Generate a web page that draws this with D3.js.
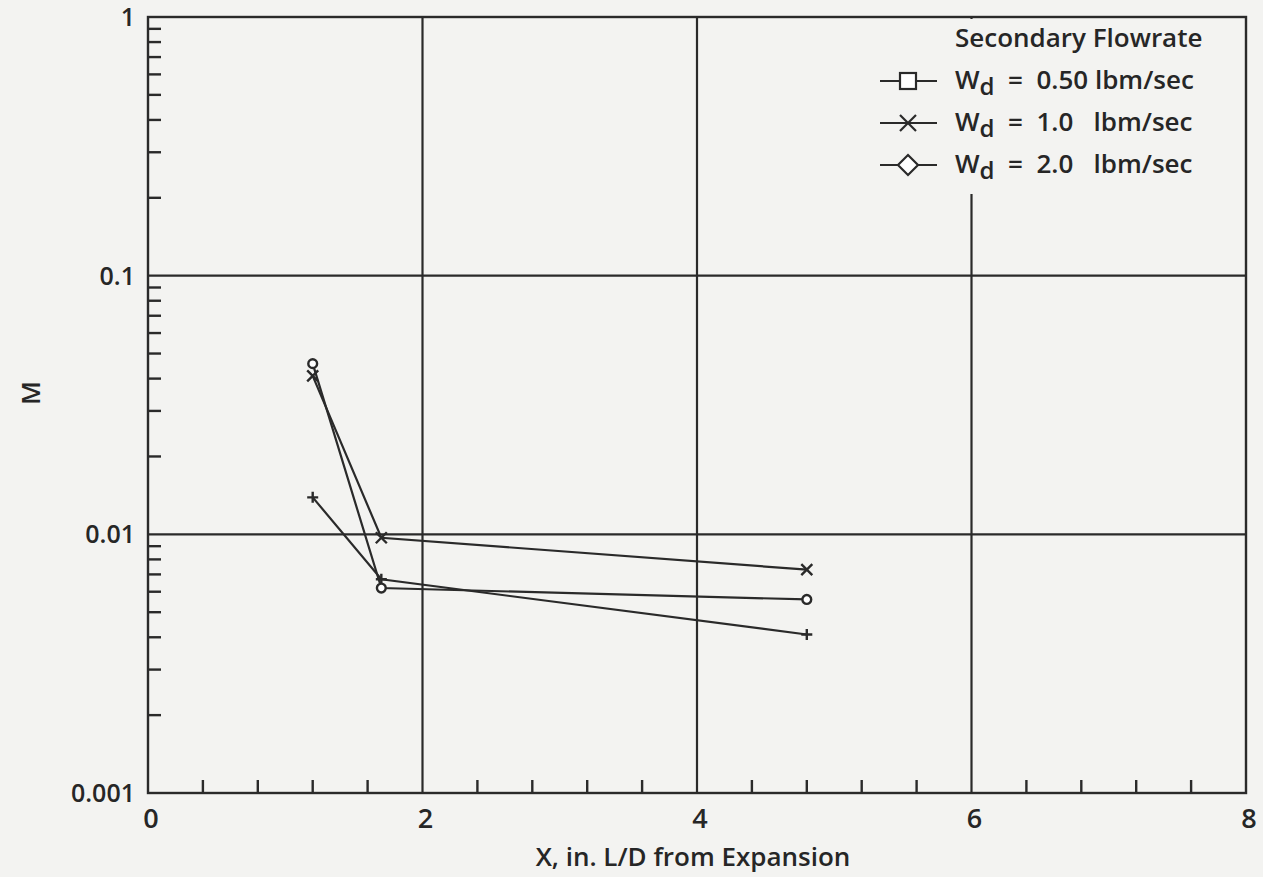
<!DOCTYPE html>
<html>
<head>
<meta charset="utf-8">
<script src="https://cdn.jsdelivr.net/npm/d3@7"></script>
<style>
    body { margin: 0; background: #f3f3f1; }
    #chart-area { width: 1263px; height: 877px; }
    text { font-family: "Open Sans", "Noto Sans", sans-serif; fill: #262626; font-weight: 600; }
</style>
</head>
<body>
<div id="chart-area"></div>
<script>

// data
let xPositions = [1.2, 1.7, 4.8];
let seriesNames = ["0.50", "1.0", "2.0"];
let flow050 = [0.0139, 0.0067, 0.0041];
let flow10 = [0.041, 0.0097, 0.0073];
let flow20 = [0.0457, 0.0062, 0.0056];
let markerTypes = ["plus", "cross", "circle"];
let legendMarkers = ["square", "cross", "diamond"];

let xTicks = [0, 2, 4, 6, 8];
let yTickLabels = ["1", "0.1", "0.01", "0.001"];
let yTicks = [1, 0.1, 0.01, 0.001];

class MixChart {

    constructor(parentElement) {
        this.parentElement = parentElement;
        this.series = [flow050, flow10, flow20];
        this.initVis();
    }

    initVis() {
        let vis = this;

        vis.margin = {top: 17, right: 17, bottom: 84, left: 148};
        vis.width = 1263 - vis.margin.left - vis.margin.right;
        vis.height = 877 - vis.margin.top - vis.margin.bottom;

        vis.svg = d3.select("#" + vis.parentElement).append("svg")
            .attr("width", 1263)
            .attr("height", 877);

        vis.g = vis.svg.append("g")
            .attr("transform", `translate(${vis.margin.left}, ${vis.margin.top})`);

        vis.x = d3.scaleLinear().domain([0, 8]).range([0, vis.width]);
        vis.y = d3.scaleLog().domain([0.001, 1]).range([vis.height, 0]);

        let ink = "#2a2a2a";

        // grid lines at decades and at even x
        vis.g.selectAll(".hgrid")
            .data([0.1, 0.01])
            .enter().append("line")
            .attr("x1", 0).attr("x2", vis.width)
            .attr("y1", d => vis.y(d)).attr("y2", d => vis.y(d))
            .attr("stroke", ink).attr("stroke-width", 2.2);

        vis.g.selectAll(".vgrid")
            .data([2, 4, 6])
            .enter().append("line")
            .attr("x1", d => vis.x(d)).attr("x2", d => vis.x(d))
            .attr("y1", 0).attr("y2", vis.height)
            .attr("stroke", ink).attr("stroke-width", 2.2);

        // minor log ticks on the left
        let minor = [];
        [0.001, 0.01, 0.1].forEach(dec => {
            for (let k = 2; k <= 9; k++) minor.push(dec * k);
        });
        vis.g.selectAll(".ytick")
            .data(minor)
            .enter().append("line")
            .attr("x1", 0).attr("x2", 13)
            .attr("y1", d => vis.y(d)).attr("y2", d => vis.y(d))
            .attr("stroke", ink).attr("stroke-width", 2.4);

        // minor x ticks every 0.4
        let xMinor = d3.range(0.4, 8, 0.4).filter(d => Math.abs(d / 2 - Math.round(d / 2)) > 0.01);
        vis.g.selectAll(".xtick")
            .data(xMinor)
            .enter().append("line")
            .attr("x1", d => vis.x(d)).attr("x2", d => vis.x(d))
            .attr("y1", vis.height).attr("y2", vis.height - 13)
            .attr("stroke", ink).attr("stroke-width", 2.4);

        // tick labels
        vis.g.selectAll(".ylab")
            .data(yTicks)
            .enter().append("text")
            .attr("x", -13)
            .attr("y", d => vis.y(d) + 9)
            .attr("text-anchor", "end")
            .attr("font-size", 25)
            .text((d, i) => yTickLabels[i]);

        vis.g.selectAll(".xlab")
            .data(xTicks)
            .enter().append("text")
            .attr("x", d => vis.x(d) + 3)
            .attr("y", vis.height + 35)
            .attr("text-anchor", "middle")
            .attr("font-size", 27)
            .text(d => d);

        // axis titles
        vis.svg.append("text")
            .attr("transform", "translate(40, 393) rotate(-90)")
            .attr("text-anchor", "middle")
            .attr("font-size", 26)
            .text("M");

        vis.svg.append("text")
            .attr("x", 693).attr("y", 866)
            .attr("text-anchor", "middle")
            .attr("font-size", 26)
            .text("X, in. L/D from Expansion");

        vis.wrangleData();
    }

    wrangleData() {
        let vis = this;

        vis.displayData = vis.series.map((vals, i) => ({
            name: seriesNames[i],
            marker: markerTypes[i],
            points: xPositions.map((x, j) => ({x: x, y: vals[j]}))
        }));

        vis.updateVis();
    }

    drawMarker(sel, type, size) {
        let s = size;
        if (type === "plus") {
            sel.append("path").attr("d", `M${-s},0H${s}M0,${-s}V${s}`);
        } else if (type === "cross") {
            sel.append("path").attr("d", `M${-s},${-s}L${s},${s}M${-s},${s}L${s},${-s}`);
        } else if (type === "circle") {
            sel.append("circle").attr("r", s * 0.8).attr("fill", "#fff");
        } else if (type === "square") {
            sel.append("rect").attr("x", -s).attr("y", -s).attr("width", 2 * s).attr("height", 2 * s).attr("fill", "#fff");
        } else if (type === "diamond") {
            sel.append("path").attr("d", `M0,${-s * 1.25}L${s * 1.25},0L0,${s * 1.25}L${-s * 1.25},0Z`).attr("fill", "#fff");
        }
    }

    updateVis() {
        let vis = this;
        let ink = "#2a2a2a";

        let line = d3.line()
            .x(d => vis.x(d.x))
            .y(d => vis.y(d.y));

        vis.displayData.forEach(s => {
            vis.g.append("path")
                .datum(s.points)
                .attr("d", line)
                .attr("fill", "none")
                .attr("stroke", ink)
                .attr("stroke-width", 2.2);

            s.points.forEach(p => {
                let m = vis.g.append("g")
                    .attr("transform", `translate(${vis.x(p.x)}, ${vis.y(p.y)})`)
                    .attr("stroke", ink)
                    .attr("stroke-width", 2.4)
                    .attr("fill", "none");
                vis.drawMarker(m, s.marker, 5.5);
            });
        });

        // legend
        let legend = vis.svg.append("g").attr("class", "legend");

        legend.append("rect")
            .attr("x", 868).attr("y", 17)
            .attr("width", 370).attr("height", 177)
            .attr("fill", "#f3f3f1");

        // frame drawn over the legend box
        vis.g.append("rect")
            .attr("width", vis.width).attr("height", vis.height)
            .attr("fill", "none").attr("stroke", ink).attr("stroke-width", 2.4);

        legend.raise();
        legend.select("rect").attr("y", 19).attr("height", 175).attr("width", 368);

        legend.append("text")
            .attr("x", 955).attr("y", 47)
            .attr("font-size", 26)
            .text("Secondary Flowrate");

        seriesNames.forEach((n, i) => {
            let ly = 81 + i * 42;
            legend.append("line")
                .attr("x1", 880).attr("x2", 937)
                .attr("y1", ly).attr("y2", ly)
                .attr("stroke", ink).attr("stroke-width", 2.2);
            let m = legend.append("g")
                .attr("transform", `translate(908, ${ly})`)
                .attr("stroke", ink).attr("stroke-width", 2.2).attr("fill", "none");
            vis.drawMarker(m, legendMarkers[i], 8);

            let t = legend.append("text")
                .attr("x", 955).attr("y", ly + 8)
                .attr("font-size", 26)
                .attr("xml:space", "preserve");
            t.append("tspan").text("W");
            t.append("tspan").attr("dy", 6).attr("font-size", 24).text("d");
            t.append("tspan").attr("dy", -6).text("  =  " + n + (n === "0.50" ? " " : "   ") + "lbm/sec");
        });
    }
}

new MixChart("chart-area");
</script>
</body>
</html>
